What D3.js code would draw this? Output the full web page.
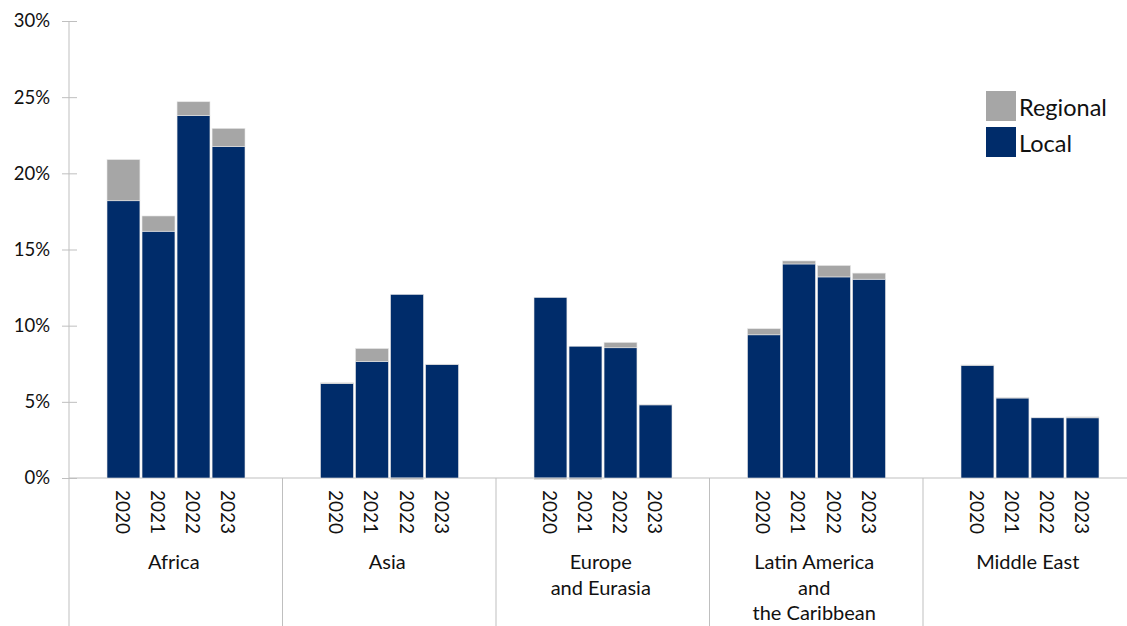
<!DOCTYPE html>
<html><head><meta charset="utf-8">
<script src="https://cdn.jsdelivr.net/npm/d3@7"></script>
<style>
html,body{margin:0;padding:0;background:#fff;}
svg{display:block;font-family:Lato,"Open Sans",sans-serif;}
</style></head>
<body>
<svg id="chart" width="1127" height="626"></svg>
<script>
const regions = [["Africa"],["Asia"],["Europe","and Eurasia"],["Latin America","and","the Caribbean"],["Middle East"]];
const years = ["2020","2021","2022","2023"];
const localValues = [
  [18.2, 16.2, 23.8, 21.75],
  [6.2, 7.65, 12.05, 7.45],
  [11.85, 8.65, 8.55, 4.8],
  [9.4, 14.05, 13.2, 13.05],
  [7.4, 5.25, 3.95, 3.95]
];
const regionalValues = [
  [2.7, 1.0, 0.9, 1.2],
  [0.05, 0.85, -0.1, 0.02],
  [-0.1, -0.1, 0.35, 0.02],
  [0.4, 0.2, 0.75, 0.4],
  [0.02, 0.02, 0.0, 0.06]
];
const yTicks = [0,5,10,15,20,25,30];
const seriesNames = ["Local","Regional"];
const colors = {Local:"#002c6a", Regional:"#a6a6a6"};

(function(){
const svg = d3.select("#chart");
const mLeft = 69, mTop = 21, mBottom = 478, groupW = 213.5;
const regionKeys = regions.map(r => r.join(" "));

const y = d3.scaleLinear().domain([0,30]).range([mBottom, mTop]);
const x0 = d3.scaleBand().domain(regionKeys).range([mLeft, mLeft + groupW*5]).padding(0);
const x1 = d3.scaleBand().domain(years).range([38, 176]).paddingInner(0.06).paddingOuter(0);

const table = [];
regionKeys.forEach((rk, ri) => years.forEach((yr, yi) => {
  table.push({region: rk, year: yr, Local: localValues[ri][yi], Regional: regionalValues[ri][yi]});
}));
const stacked = d3.stack().keys(seriesNames).offset(d3.stackOffsetDiverging)(table);

const axisColor = "#bfbfbf";
svg.append("line").attr("x1", mLeft).attr("x2", 1127).attr("y1", mBottom).attr("y2", mBottom)
  .attr("stroke", axisColor).attr("stroke-width", 1);
svg.append("line").attr("x1", mLeft).attr("x2", mLeft).attr("y1", mTop).attr("y2", 626)
  .attr("stroke", axisColor).attr("stroke-width", 1);
regionKeys.forEach((rk, i) => {
  const xe = x0(rk) + x0.bandwidth();
  svg.append("line").attr("x1", xe).attr("x2", xe).attr("y1", mBottom).attr("y2", 626)
    .attr("stroke", axisColor).attr("stroke-width", 1);
});

const yAxis = d3.axisLeft(y).tickValues(yTicks).tickFormat(d => d + "%").tickSize(7).tickPadding(12);
const ga = svg.append("g").attr("transform", `translate(${mLeft},0)`).call(yAxis);
ga.select(".domain").remove();
ga.selectAll(".tick line").attr("x1", -7).attr("x2", 8).attr("stroke", axisColor);
ga.selectAll(".tick text").attr("font-size", 18.5).attr("fill", "#111").attr("font-family", "Lato, 'Open Sans', sans-serif");

stacked.forEach(s => {
  svg.append("g").attr("fill", colors[s.key])
    .selectAll("rect").data(s).join("rect")
    .attr("x", d => x0(d.data.region) + x1(d.data.year))
    .attr("width", x1.bandwidth())
    .attr("y", d => y(Math.max(d[0], d[1])))
    .attr("height", d => Math.abs(y(d[0]) - y(d[1])))
    .attr("stroke", "#e6e6e6").attr("stroke-width", 0.6);
});

table.forEach(d => {
  const cx = x0(d.region) + x1(d.year) + x1.bandwidth()/2;
  svg.append("text")
    .attr("transform", `translate(${cx},490) rotate(90)`)
    .attr("dominant-baseline", "central")
    .attr("font-size", 19).attr("fill", "#111")
    .text(d.year);
});

regions.forEach((lines, i) => {
  const cx = x0(regionKeys[i]) + x0.bandwidth()/2 - 2;
  lines.forEach((ln, j) => {
    svg.append("text").attr("x", cx).attr("y", 569 + j*25.5)
      .attr("text-anchor", "middle").attr("font-size", 20).attr("fill", "#111")
      .text(ln);
  });
});

const legend = [{key:"Regional", y:91},{key:"Local", y:127}];
legend.forEach(l => {
  svg.append("rect").attr("x", 986).attr("y", l.y).attr("width", 30).attr("height", 30)
    .attr("fill", colors[l.key]);
  svg.append("text").attr("x", 1019).attr("y", l.y + 16).attr("dominant-baseline", "central")
    .attr("font-size", 23.5).attr("fill", "#111").text(l.key);
});
})();
</script>
</body></html>
